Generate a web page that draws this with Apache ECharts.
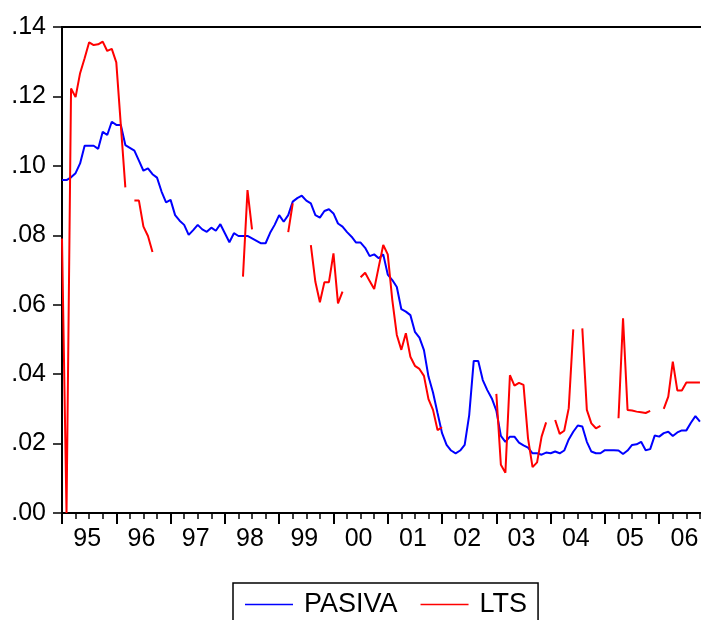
<!DOCTYPE html>
<html>
<head>
<meta charset="utf-8">
<script src="https://cdn.jsdelivr.net/npm/echarts@6/dist/echarts.min.js"></script>
<style>
  html, body { margin: 0; padding: 0; background: #fff; overflow: hidden; }
  /* the chart runs a little past the right edge, as in the cropped original */
  #main { width: 709px; height: 620px; }
</style>
</head>
<body>
<div id="main"></div>
<script>
// monthly axis, 1995M01 .. 2006M12 (picture is cut off on the right)
var startYear = 1995;
var monthCount = 144;
var yTicks = [0, 0.02, 0.04, 0.06, 0.08, 0.10, 0.12, 0.14];

// PASIVA, 1995M01 onwards
var pasiva = [
  0.0959, 0.0959, 0.0967, 0.0979, 0.1007, 0.1058, 0.1058, 0.1058, 0.1049, 0.1098, 0.1089, 0.1127,
  0.1118, 0.1118, 0.1060, 0.1052, 0.1044, 0.1015, 0.0986, 0.0993, 0.0976, 0.0966, 0.0926, 0.0895,
  0.0902, 0.0858, 0.0842, 0.0830, 0.0801, 0.0815, 0.0830, 0.0817, 0.0810, 0.0822, 0.0813, 0.0832,
  0.0806, 0.0780, 0.0806, 0.0798, 0.0798, 0.0798, 0.0791, 0.0784, 0.0777, 0.0777, 0.0807, 0.0830,
  0.0858, 0.0839, 0.0858, 0.0897, 0.0907, 0.0914, 0.0900, 0.0892, 0.0858, 0.0851, 0.0870, 0.0875,
  0.0863, 0.0834, 0.0825, 0.0809, 0.0796, 0.0779, 0.0779, 0.0764, 0.0740, 0.0745, 0.0734, 0.0745,
  0.0687, 0.0671, 0.0651, 0.0587, 0.0580, 0.0570, 0.0522, 0.0505, 0.0469, 0.0393, 0.0347, 0.0288,
  0.0230, 0.0196, 0.0180, 0.0172, 0.0180, 0.0196, 0.0282, 0.0438, 0.0438, 0.0383, 0.0354, 0.0330,
  0.0295, 0.0222, 0.0205, 0.0220, 0.0220, 0.0203, 0.0195, 0.0188, 0.0172, 0.0172, 0.0168, 0.0174,
  0.0172, 0.0177, 0.0172, 0.0180, 0.0212, 0.0234, 0.0252, 0.0249, 0.0205, 0.0177, 0.0172, 0.0172,
  0.0181, 0.0181, 0.0181, 0.0180, 0.0170, 0.0180, 0.0196, 0.0198, 0.0205, 0.0181, 0.0184, 0.0223,
  0.0220, 0.0230, 0.0234, 0.0222, 0.0232, 0.0238, 0.0238, 0.0260, 0.0279, 0.0263
];

// LTS, null = no observation (gap in the line)
var lts = [
  0.0791, 0.0000, 0.1223, 0.1198, 0.1267, 0.1310, 0.1356, 0.1348, 0.1350, 0.1358, 0.1331, 0.1337,
  0.1298, 0.1118, 0.0938, null, 0.0900, 0.0900, 0.0825, 0.0798, 0.0752, null, null, null,
  null, null, null, null, null, null, null, null, null, null, null, null,
  null, null, null, null, 0.0681, 0.0930, 0.0817, null, null, null, null, null,
  null, null, 0.0809, 0.0892, null, null, null, 0.0772, 0.0666, 0.0607, 0.0665, 0.0665,
  0.0748, 0.0604, 0.0638, null, null, null, 0.0679, 0.0692, 0.0668, 0.0645, 0.0709, 0.0772,
  0.0745, 0.0614, 0.0513, 0.0470, 0.0518, 0.0450, 0.0424, 0.0415, 0.0395, 0.0328, 0.0297, 0.0239,
  0.0247, null, null, null, null, null, null, null, null, null, null, null,
  0.0343, 0.0139, 0.0116, 0.0397, 0.0367, 0.0375, 0.0369, 0.0215, 0.0132, 0.0146, 0.0220, 0.0261,
  null, 0.0268, 0.0228, 0.0237, 0.0302, 0.0529, null, 0.0532, 0.0297, 0.0258, 0.0244, 0.0251,
  null, null, null, 0.0273, 0.0561, 0.0297, 0.0295, 0.0292, 0.0290, 0.0288, 0.0294, null,
  null, 0.0300, 0.0335, 0.0436, 0.0353, 0.0353, 0.0376, 0.0376, 0.0376, 0.0376
];

var months = [];
for (var i = 0; i < monthCount; i++) {
  var y = startYear + Math.floor(i / 12);
  var m = (i % 12) + 1;
  months.push(y + '-' + (m < 10 ? '0' + m : m));
}

var font = 'Liberation Sans, Arial, sans-serif';

var myChart = echarts.init(document.getElementById('main'));
myChart.setOption({
  animation: false,
  backgroundColor: '#fff',
  grid: {
    left: 62,
    top: 27,
    right: 0,
    bottom: 107,
    show: true,
    borderColor: '#000',
    borderWidth: 2
  },
  legend: {
    data: ['PASIVA', 'LTS'],
    left: 233,
    top: 583,
    orient: 'horizontal',
    icon: 'path://M0,0 L48,0 L48,1.6 L0,1.6 Z',
    borderColor: '#000',
    borderWidth: 1.5,
    padding: [8, 11, 40, 12],
    itemWidth: 48,
    itemHeight: 27,
    itemGap: 23,
    textStyle: {
      fontFamily: font,
      fontSize: 27,
      color: '#000',
      padding: [0, 0, 0, 6]
    }
  },
  xAxis: [
    {
      type: 'category',
      data: months,
      boundaryGap: false,
      axisLine: { lineStyle: { color: '#000', width: 2 } },
      axisTick: {
        interval: function (idx) { return idx % 3 === 0; },
        length: 6,
        lineStyle: { color: '#000', width: 1.5 }
      },
      axisLabel: {
        interval: function (idx) { return idx % 12 === 6; },
        formatter: function (v) { return v.slice(2, 4); },
        fontFamily: font,
        fontSize: 25,
        color: '#000',
        margin: 14,
        padding: [0, 4, 0, 0]
      },
      splitLine: { show: false }
    },
    {
      type: 'category',
      data: months,
      boundaryGap: false,
      position: 'bottom',
      axisLine: { show: false },
      axisTick: {
        interval: function (idx) { return idx % 12 === 0; },
        length: 11,
        lineStyle: { color: '#000', width: 2 }
      },
      axisLabel: { show: false },
      splitLine: { show: false }
    }
  ],
  yAxis: {
    type: 'value',
    min: yTicks[0],
    max: yTicks[yTicks.length - 1],
    interval: 0.02,
    axisLine: { show: true, lineStyle: { color: '#000', width: 2 } },
    axisTick: { show: true, length: 9, lineStyle: { color: '#000', width: 1.5 } },
    splitLine: { show: false },
    axisLabel: {
      formatter: function (v) { return v.toFixed(2).replace(/^0/, ''); },
      fontFamily: font,
      fontSize: 25,
      color: '#000',
      margin: 16
    }
  },
  series: [
    {
      name: 'PASIVA',
      type: 'line',
      data: pasiva,
      symbol: 'none',
      showSymbol: false,
      color: '#0000ff',
      lineStyle: { color: '#0000ff', width: 2 }
    },
    {
      name: 'LTS',
      type: 'line',
      data: lts,
      symbol: 'none',
      showSymbol: false,
      connectNulls: false,
      color: '#ff0000',
      lineStyle: { color: '#ff0000', width: 2 }
    }
  ]
});
</script>
</body>
</html>
